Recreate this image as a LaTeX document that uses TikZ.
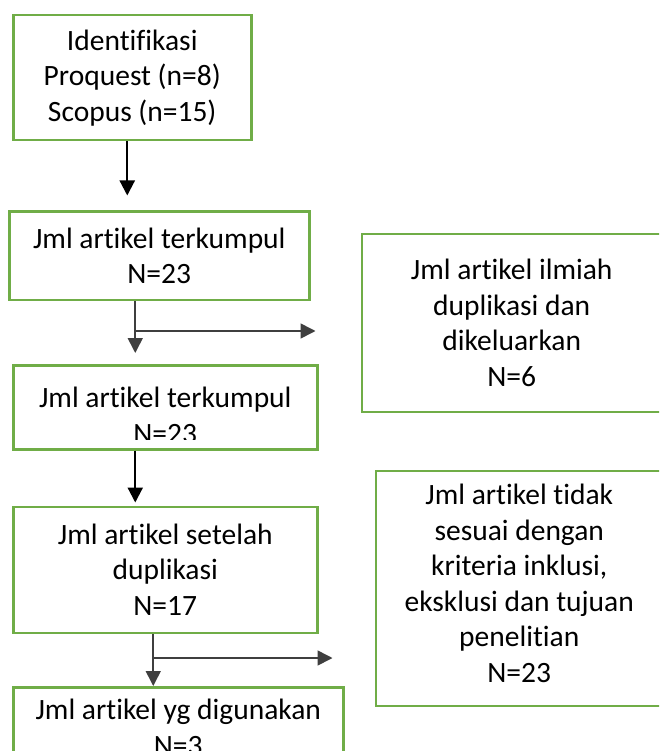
\documentclass[tikz,border=0pt]{standalone}
\usepackage{fontspec}
\setmainfont{Carlito}[Ligatures={NoCommon}]
\usetikzlibrary{positioning,arrows.meta}
\definecolor{boxgreen}{HTML}{70AD47}
\definecolor{linegray}{HTML}{3F3F3F}
\tikzstyle{box}=[rectangle, draw=boxgreen, line width=2.5pt, inner sep=0pt,
        text centered, align=center, font=\fontsize{29.5pt}{35.5pt}\selectfont]
\tikzstyle{boxtext}=[inner sep=0pt, align=center, font=\fontsize{29.5pt}{35.5pt}\selectfont]
\tikzstyle{myarrow}=[-{Triangle[width=15pt,length=15pt]}, line width=2.2pt, black]
\tikzstyle{branch}=[-{Triangle[width=15pt,length=15pt]}, line width=1.6pt, linegray]

\begin{document}
\begin{tikzpicture}[x=1pt,y=1pt]
    \clip (0,0) rectangle (659,-751);

    \node (Ident) [box, minimum width=238pt, minimum height=125pt, anchor=north west] at (12,-14)
        {Identifikasi\\Proquest (n=8)\\Scopus (n=15)};

    \node (KumpulA) [box, minimum width=300pt, minimum height=88pt,
        below right=69pt and -4pt of Ident.south west]
        {Jml artikel terkumpul\\N=23};

    \node (Duplikasi) [box, minimum width=300pt, minimum height=178pt,
        below right=22pt and 50pt of KumpulA.north east]
        {Jml artikel ilmiah\\duplikasi dan\\dikeluarkan\\N=6};

    \node (KumpulB) [box, minimum width=304pt, minimum height=84pt,
        below right=63pt and 4pt of KumpulA.south west] {};
    \begin{scope}
        \clip ([yshift=11pt]KumpulB.south west) rectangle (KumpulB.north east);
        \node (KumpulBText) [boxtext] at ([yshift=-8pt]KumpulB.center)
            {Jml artikel terkumpul\\N=23};
    \end{scope}

    \node (Setelah) [box, minimum width=304pt, minimum height=126pt,
        below right=55pt and 0pt of KumpulB.south west]
        {Jml artikel setelah\\duplikasi\\N=17};

    \node (Tidak) [box, minimum width=287pt, minimum height=235pt,
        below right=-36pt and 56pt of Setelah.north east] {};
    \node (TidakText) [boxtext] at ([yshift=5pt]Tidak.center)
        {Jml artikel tidak\\sesuai dengan\\kriteria inklusi,\\eksklusi dan tujuan\\penelitian\\N=23};

    \node (Guna) [box, minimum width=330pt, minimum height=80pt,
        below right=52pt and 0pt of Setelah.south west]
        {Jml artikel yg digunakan\\N=3};

    % arrows between the boxes
    \coordinate (a1) at ([xshift=-5pt]Ident.south);
    \draw[myarrow, shorten >=15pt] (a1) -- (a1 |- KumpulA.north);

    \coordinate (a2) at ([xshift=-24pt]KumpulA.south);
    \draw[branch, shorten >=11pt] (a2) -- (a2 |- KumpulB.north);
    \coordinate (s2) at ([yshift=-30pt]a2);
    \draw[branch, shorten >=45pt] (s2) -- (s2 -| Duplikasi.west);

    \coordinate (a3) at ([xshift=-30pt]KumpulB.south);
    \draw[myarrow, shorten >=3pt] (a3) -- (a3 |- Setelah.north);

    \coordinate (a4) at ([xshift=-12pt]Setelah.south);
    \draw[branch] (a4) -- (a4 |- Guna.north);
    \coordinate (s4) at ([yshift=-24pt]a4);
    \draw[branch, shorten >=42pt] (s4) -- (s4 -| Tidak.west);
\end{tikzpicture}
\end{document}
